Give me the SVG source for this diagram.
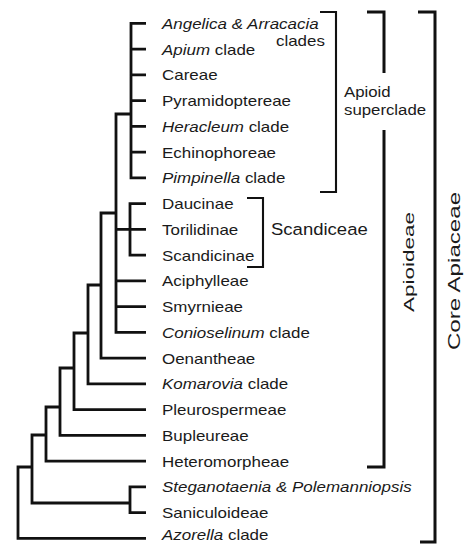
<svg xmlns="http://www.w3.org/2000/svg" width="468" height="544" viewBox="0 0 468 544">
<style>
.ln{fill:none;stroke:#111;stroke-width:2.8;stroke-linejoin:miter;stroke-linecap:butt}
.br{fill:none;stroke:#111;stroke-width:3}
.bt{fill:none;stroke:#111;stroke-width:2.1}
text{font-family:"Liberation Sans",Arial,sans-serif;fill:#1a1a1a}
.tl{font-size:15px}
.it{font-style:italic}
.gl{font-size:15px}
.sc{font-size:17px}
.rt{text-anchor:middle}
</style>
<rect width="468" height="544" fill="#fff"/>
<g id="connectors">
<path class="ln" d="M146,23.3H131V177.8H146 M131,49.05H146 M131,74.8H146 M131,100.55H146 M131,126.3H146 M131,152.05H146"/>
<path class="ln" d="M131,114H116V332.3H146"/>
<path class="ln" d="M146,203.55H130V255.05H146 M116,229.3H146"/>
<path class="ln" d="M116,280.8H146 M116,306.55H146"/>
<path class="ln" d="M116,213H101V358.05H146"/>
<path class="ln" d="M101,285H88V383.8H146"/>
<path class="ln" d="M88,333H74V409.55H146"/>
<path class="ln" d="M74,368H60V435.3H146"/>
<path class="ln" d="M60,407H46V461.05H146"/>
<path class="ln" d="M46,435H32V503H130 M146,486.8H130V512.55H146"/>
<path class="ln" d="M32,467H18V538.3H146"/>
</g>
<g transform="translate(162 0) scale(1.13 1)">
<g id="angelica"><text class="tl it" x="0" y="28.8">Angelica &amp; Arracacia</text><text class="tl" x="144.2" y="46.5" text-anchor="end">clades</text></g>
<g id="apium"><text class="tl" x="0" y="54.55"><tspan class="it">Apium</tspan> clade</text></g>
<g id="careae"><text class="tl" x="0" y="80.3">Careae</text></g>
<g id="pyramidoptereae"><text class="tl" x="0" y="106.05">Pyramidoptereae</text></g>
<g id="heracleum"><text class="tl" x="0" y="131.8"><tspan class="it">Heracleum</tspan> clade</text></g>
<g id="echinophoreae"><text class="tl" x="0" y="157.55">Echinophoreae</text></g>
<g id="pimpinella"><text class="tl" x="0" y="183.3"><tspan class="it">Pimpinella</tspan> clade</text></g>
<g id="daucinae"><text class="tl" x="0" y="209.05">Daucinae</text></g>
<g id="torilidinae"><text class="tl" x="0" y="234.8">Torilidinae</text></g>
<g id="scandicinae"><text class="tl" x="0" y="260.55">Scandicinae</text></g>
<g id="aciphylleae"><text class="tl" x="0" y="286.3">Aciphylleae</text></g>
<g id="smyrnieae"><text class="tl" x="0" y="312.05">Smyrnieae</text></g>
<g id="conioselinum"><text class="tl" x="0" y="337.8"><tspan class="it">Conioselinum</tspan> clade</text></g>
<g id="oenantheae"><text class="tl" x="0" y="363.55">Oenantheae</text></g>
<g id="komarovia"><text class="tl" x="0" y="389.3"><tspan class="it">Komarovia</tspan> clade</text></g>
<g id="pleurospermeae"><text class="tl" x="0" y="415.05">Pleurospermeae</text></g>
<g id="bupleureae"><text class="tl" x="0" y="440.8">Bupleureae</text></g>
<g id="heteromorpheae"><text class="tl" x="0" y="466.55">Heteromorpheae</text></g>
<g id="steganotaenia"><text class="tl it" x="0" y="492.3">Steganotaenia &amp; Polemanniopsis</text></g>
<g id="saniculoideae"><text class="tl" x="0" y="518.05">Saniculoideae</text></g>
<g id="azorella"><text class="tl" x="0" y="540.5"><tspan class="it">Azorella</tspan> clade</text></g>
</g>
<g id="apioid-superclade">
<path class="bt" d="M320,12H336V192H320"/>
<text class="gl" transform="translate(344 96.5) scale(1.12 1)">Apioid</text>
<text class="gl" transform="translate(344 115) scale(1.12 1)">superclade</text>
</g>
<g id="scandiceae">
<path class="bt" d="M247,198H263V267H247"/>
<text class="sc" transform="translate(271 235) scale(1.09 1)">Scandiceae</text>
</g>
<g id="apioideae">
<path class="br" d="M367,12H384V73 M384,130V467H367"/>
<text class="rt" style="font-size:15.5px" transform="translate(414 262) rotate(-90) scale(1.45 1)">Apioideae</text>
</g>
<g id="core-apiaceae">
<path class="br" d="M418,12H435V542H420"/>
<text class="rt" style="font-size:17px" transform="translate(460 271) rotate(-90) scale(1.42 1)">Core Apiaceae</text>
</g>
</svg>
